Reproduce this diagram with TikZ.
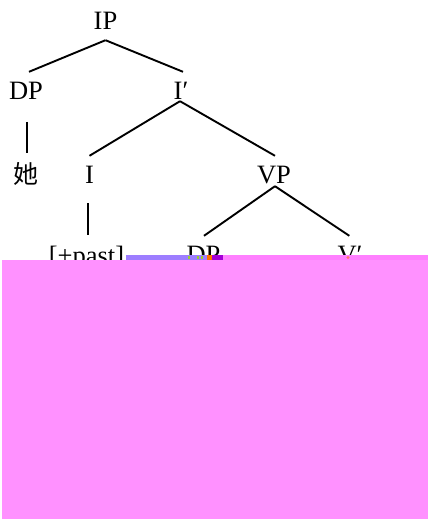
\documentclass[tikz,border=0pt]{standalone}
\usepackage{fontspec}
\setmainfont{Liberation Serif}
\newfontfamily\cjkfont{Noto Sans CJK SC}
\definecolor{bodypink}{HTML}{FF91FF}
\definecolor{strippink}{HTML}{FF80FF}
\definecolor{stripblue}{HTML}{9D7DFF}
\definecolor{strippurple}{HTML}{A300D6}
\definecolor{striporange}{HTML}{FF7000}
\definecolor{stripgreen}{HTML}{9ACD32}
\tikzset{
  lbl/.style={anchor=base, inner xsep=0pt, inner ysep=9pt, text height=18pt, text depth=0pt,
    font=\fontsize{26.5}{30}\selectfont},
  edge/.style={line width=1.9pt},
}
\begin{document}
\begin{tikzpicture}[x=1pt,y=-1pt]
\useasboundingbox (0,0) rectangle (428,519);
\fill[white] (0,0) rectangle (428,519);
% nodes
\node[lbl] (ip) at (105.5,30) {IP};
\node[lbl] (dp1) at (26,99) {DP};
\node[lbl] (ibar) at (181,99) {I′};
\node[lbl, font=\cjkfont\fontsize{25}{30}\selectfont] (she) at (26,183) {她};
\node[lbl] (i) at (89.5,183) {I};
\node[lbl] (vp) at (274,183) {VP};
\node[lbl] (past) at (86.5,264) {[+past]};
\node[lbl] (dp2) at (203.5,263) {DP};
\node[lbl] (vbar) at (350,263) {V′};
% edges
\draw[edge] ([yshift=-1pt]ip.south) -- ([xshift=3pt]dp1.north);
\draw[edge] ([yshift=-1pt]ip.south) -- ([xshift=2pt]ibar.north);
\draw[edge, shorten <=13.7pt, shorten >=2.7pt] ([xshift=0.7pt]dp1.south) -- ([xshift=0.7pt]she.north);
\draw[edge] ([yshift=7pt,xshift=-1pt]ibar.south) -- (i.north);
\draw[edge] ([yshift=7pt,xshift=-1pt]ibar.south) -- ([xshift=1pt]vp.north);
\draw[edge, shorten <=11pt, shorten >=2pt] ([xshift=-1.2pt]i.south) -- ([xshift=1.8pt]past.north);
\draw[edge] ([yshift=6pt,xshift=1pt]vp.south) -- ([xshift=0.5pt]dp2.north);
\draw[edge] ([yshift=6pt,xshift=1pt]vp.south) -- ([xshift=-0.7pt]vbar.north);
% overlay block
\fill[bodypink] (2,260) rectangle (428,519);
\fill[stripblue] (126,255) rectangle (207,260);
\fill[stripgreen] (188,256) rectangle (190,259);
\fill[stripgreen] (197,256) rectangle (199,259);
\fill[stripgreen] (201,256) rectangle (203,259);
\fill[striporange] (207,255) rectangle (212,260);
\fill[strippurple] (212,255) rectangle (223,260);
\fill[strippink] (223,255) rectangle (428,260);
\fill[striporange!60!strippink] (348,257.5) circle (1.6);
\end{tikzpicture}
\end{document}
